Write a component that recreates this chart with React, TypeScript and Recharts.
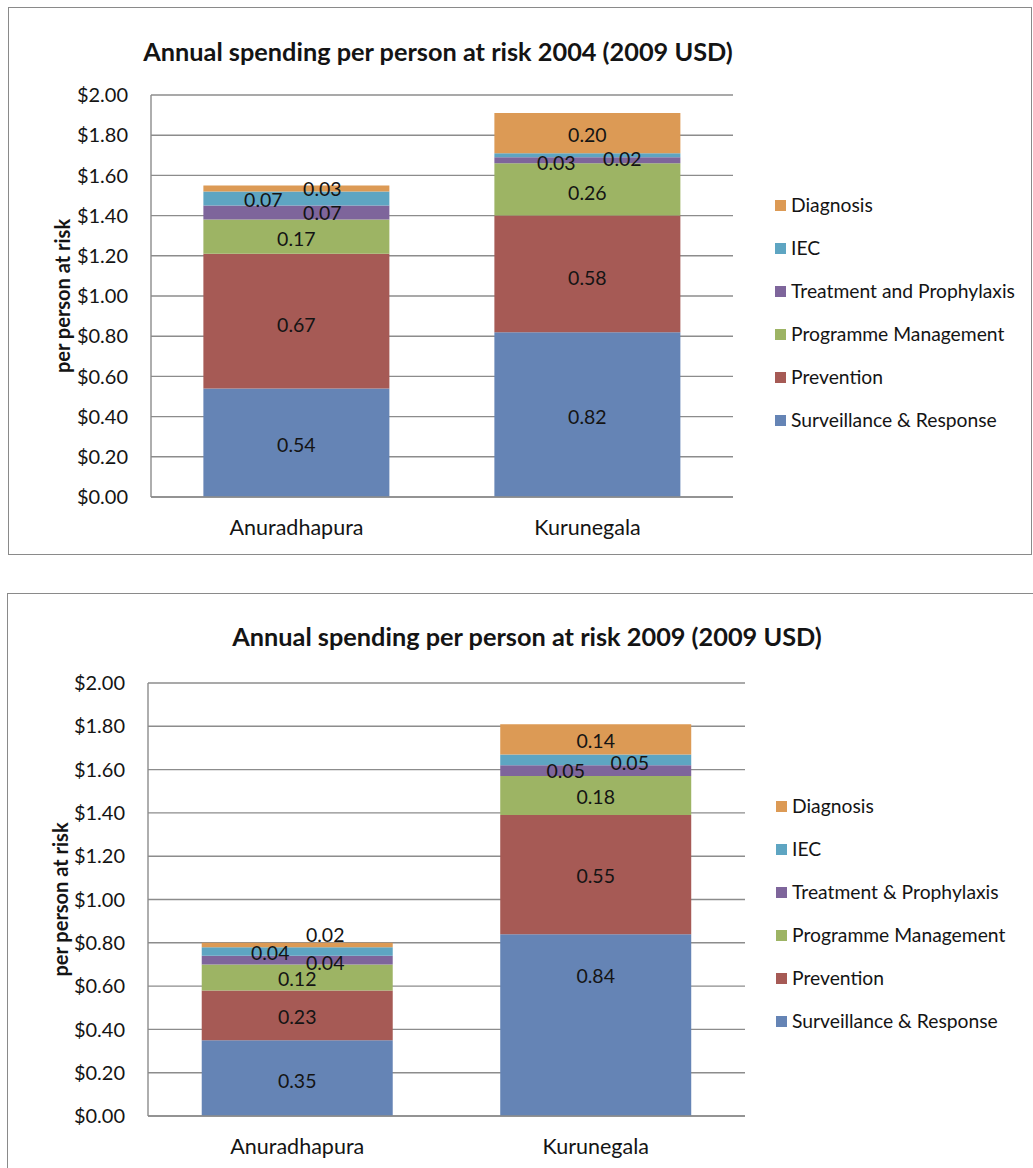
import React from 'react';
import { BarChart, Bar, XAxis, YAxis, CartesianGrid, LabelList } from 'recharts';

// Districts and axis ticks
const districts = ['Anuradhapura', 'Kurunegala'];
const yTicks = [0, 0.2, 0.4, 0.6, 0.8, 1.0, 1.2, 1.4, 1.6, 1.8, 2.0];

// 2004 spending per person at risk (2009 USD)
const surveillance2004 = [0.54, 0.82];
const prevention2004 = [0.67, 0.58];
const programme2004 = [0.17, 0.26];
const treatment2004 = [0.07, 0.03];
const iec2004 = [0.07, 0.02];
const diagnosis2004 = [0.03, 0.2];

// 2009 spending per person at risk (2009 USD)
const surveillance2009 = [0.35, 0.84];
const prevention2009 = [0.23, 0.55];
const programme2009 = [0.12, 0.18];
const treatment2009 = [0.04, 0.05];
const iec2009 = [0.04, 0.05];
const diagnosis2009 = [0.02, 0.14];

const names2004 = ['Surveillance & Response', 'Prevention', 'Programme Management', 'Treatment and Prophylaxis', 'IEC', 'Diagnosis'];
const names2009 = ['Surveillance & Response', 'Prevention', 'Programme Management', 'Treatment & Prophylaxis', 'IEC', 'Diagnosis'];

const seriesKeys = ['surveillance', 'prevention', 'programme', 'treatment', 'iec', 'diagnosis'];
const seriesColors = ['#6584b5', '#a65a55', '#9db464', '#7e659b', '#5ea5c2', '#dc9a55'];

const FONT = 'Lato, "Open Sans", sans-serif';
const GRID = '#8c8c8c';

type Offsets = number[][][];

// label nudges (dx, dy) per series per district, so small segments don't collide
const labelShift2004: Offsets = [
  [[0, 2], [0, 2]],
  [[0, 3], [0, 4]],
  [[0, 2], [0, 3]],
  [[26, 0], [-31, 2]],
  [[-33, 1], [35, 3]],
  [[26, 0], [0, 1]],
];
const labelShift2009: Offsets = [
  [[0, 2], [0, -50]],
  [[0, 1], [0, 1]],
  [[0, 1], [0, 1]],
  [[28, 2], [-30, 0]],
  [[-27, 1], [34, 3]],
  [[28, -10], [0, 1]],
];

function buildRows(cols: number[][]) {
  return districts.map((d, i) => {
    const row: Record<string, any> = { district: d };
    seriesKeys.forEach((k, s) => {
      row[k] = cols[s][i];
    });
    return row;
  });
}

const rows2004 = buildRows([surveillance2004, prevention2004, programme2004, treatment2004, iec2004, diagnosis2004]);
const rows2009 = buildRows([surveillance2009, prevention2009, programme2009, treatment2009, iec2009, diagnosis2009]);

const money = (v: number) => `$${v.toFixed(2)}`;

function segmentLabel(shifts: number[][], midX: number) {
  return (props: any) => {
    const vb = props.viewBox || props;
    const value = Number(props.value);
    const idx = typeof props.index === 'number' ? props.index : vb.x + vb.width / 2 > midX ? 1 : 0;
    const [dx, dy] = shifts[idx] || [0, 0];
    const cx = vb.x + vb.width / 2 + dx;
    const cy = vb.y + vb.height / 2 + dy;
    return (
      <text x={cx} y={cy} textAnchor="middle" dominantBaseline="central" fontSize={19.5} fontFamily={FONT} fill="#141414">
        {value.toFixed(2)}
      </text>
    );
  };
}

type PanelProps = {
  rows: Record<string, any>[];
  names: string[];
  shifts: Offsets;
  width: number;
  height: number;
  plotLeft: number;
  plotRight: number;
  plotTop: number;
  plotBottom: number;
  axisTitleX: number;
};

function Panel(p: PanelProps) {
  const midX = (p.plotLeft + p.plotRight) / 2;
  return (
    <BarChart
      width={p.width}
      height={p.height}
      data={p.rows}
      margin={{ top: p.plotTop, right: p.width - p.plotRight, left: 0, bottom: p.height - p.plotBottom - 40 }}
      barCategoryGap="18%"
    >
      <CartesianGrid vertical={false} stroke={GRID} strokeWidth={1.4} />
      <XAxis
        dataKey="district"
        height={40}
        tickSize={0}
        tickMargin={23}
        axisLine={{ stroke: GRID, strokeWidth: 1.4 }}
        tick={{ fill: '#141414', fontSize: 21.5, fontFamily: FONT }}
      />
      <YAxis
        width={p.plotLeft}
        domain={[0, 2]}
        ticks={yTicks}
        tickFormatter={money}
        tickSize={0}
        tickMargin={23}
        axisLine={{ stroke: GRID, strokeWidth: 1.4 }}
        tick={{ fill: '#141414', fontSize: 20, fontFamily: FONT }}
        label={{
          content: (lp: any) => {
            const vb = lp.viewBox;
            const cy = vb.y + vb.height / 2;
            return (
              <text
                x={p.axisTitleX}
                y={cy}
                transform={`rotate(-90 ${p.axisTitleX} ${cy})`}
                textAnchor="middle"
                dominantBaseline="central"
                fontSize={20}
                fontWeight={700}
                fontFamily={FONT}
                fill="#141414"
              >
                per person at risk
              </text>
            );
          },
        }}
      />
      {seriesKeys.map((k, s) => (
        <Bar key={k} dataKey={k} name={p.names[s]} stackId="total" fill={seriesColors[s]} isAnimationActive={false}>
          <LabelList dataKey={k} content={segmentLabel(p.shifts[s], midX)} />
        </Bar>
      ))}
    </BarChart>
  );
}

function LegendBlock({ names, left, top }: { names: string[]; left: number; top: number }) {
  const order = seriesKeys.map((_, i) => i).reverse();
  return (
    <div style={{ position: 'absolute', left, top, fontFamily: FONT, fontSize: 19.3, color: '#141414' }}>
      {order.map((s, row) => (
        <div
          key={s}
          style={{ position: 'absolute', left: 0, top: row * 43 - 12, height: 24, lineHeight: '24px', whiteSpace: 'nowrap', display: 'flex', alignItems: 'center' }}
        >
          <span style={{ display: 'inline-block', width: 11, height: 11, background: seriesColors[s], marginRight: 5 }} />
          <span>{names[s]}</span>
        </div>
      ))}
    </div>
  );
}

function Title({ text, cx, cy }: { text: string; cx: number; cy: number }) {
  return (
    <div
      style={{
        position: 'absolute',
        left: cx - 450,
        width: 900,
        top: cy - 17,
        height: 34,
        lineHeight: '34px',
        textAlign: 'center',
        fontFamily: FONT,
        fontWeight: 700,
        fontSize: 25.3,
        color: '#141414',
        whiteSpace: 'nowrap',
      }}
    >
      {text}
    </div>
  );
}

export default function App() {
  return (
    <div style={{ position: 'absolute', left: 0, top: 0, width: 1033, height: 1168, overflow: 'hidden', background: '#fff' }}>
      {/* 2004 panel */}
      <div style={{ position: 'absolute', left: 8, top: 7, width: 1022, height: 546, border: '1.5px solid #8a8a8a' }} />
      <div style={{ position: 'absolute', left: 0, top: 0 }}>
        <Panel
          rows={rows2004}
          names={names2004}
          shifts={labelShift2004}
          width={760}
          height={560}
          plotLeft={151}
          plotRight={733}
          plotTop={95}
          plotBottom={497}
          axisTitleX={62}
        />
      </div>
      <Title text="Annual spending per person at risk 2004 (2009 USD)" cx={438} cy={51} />
      <LegendBlock names={names2004} left={775} top={205} />

      {/* 2009 panel */}
      <div style={{ position: 'absolute', left: 7, top: 593, width: 1040, height: 600, border: '1.5px solid #8a8a8a' }} />
      <div style={{ position: 'absolute', left: 0, top: 590 }}>
        <Panel
          rows={rows2009}
          names={names2009}
          shifts={labelShift2009}
          width={775}
          height={575}
          plotLeft={148}
          plotRight={745}
          plotTop={93}
          plotBottom={526}
          axisTitleX={60}
        />
      </div>
      <Title text="Annual spending per person at risk 2009 (2009 USD)" cx={527} cy={636} />
      <LegendBlock names={names2009} left={776} top={806} />
    </div>
  );
}
